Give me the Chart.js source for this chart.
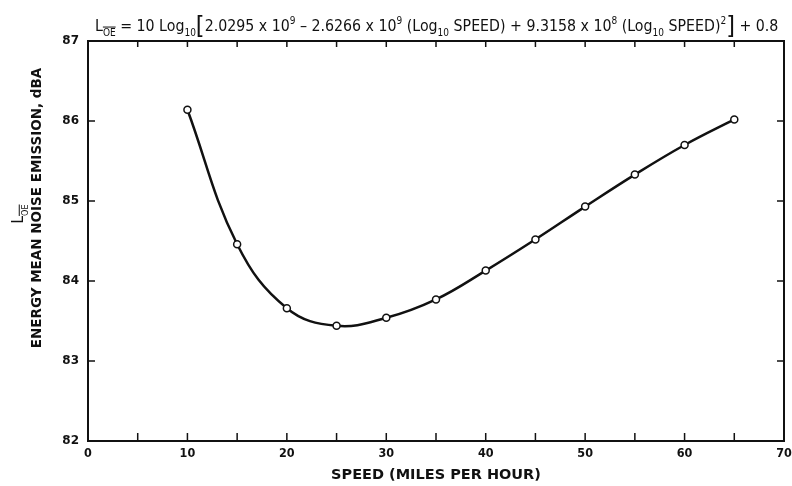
<!DOCTYPE html>
<html>
<head>
<meta charset="utf-8">
<script src="https://cdn.jsdelivr.net/npm/chart.js@4/dist/chart.umd.min.js"></script>
<style>
  html, body { margin: 0; padding: 0; background: #fff; }
  canvas { display: block; }
</style>
</head>
<body>
<canvas id="chart" width="792" height="486"></canvas>
<script>
// speeds (mph) and energy mean noise emission
const speeds = [10, 15, 20, 25, 30, 35, 40, 45, 50, 55, 60, 65];
const levels = [86.14, 84.46, 83.66, 83.44, 83.54, 83.77, 84.13, 84.52, 84.93, 85.33, 85.70, 86.02];
const xTicks = [0, 10, 20, 30, 40, 50, 60, 70];
const yTicks = [82, 83, 84, 85, 86, 87];

const ink = '#111';
const FONT = '"DejaVu Sans Condensed", "DejaVu Sans", sans-serif';
const LABEL_FONT = '"DejaVu Sans", sans-serif';

// pieces of the formula on top, with sub/superscripts
const titleParts = [
    ['L', 'n'], ['OE', 'subbar'], [' = 10 Log', 'n'], ['10', 'sub'], ['[', 'big'],
    ['2.0295 x 10', 'n'], ['9', 'sup'], [' \u2013 2.6266 x 10', 'n'], ['9', 'sup'],
    [' (Log', 'n'], ['10', 'sub'], [' SPEED) + 9.3158 x 10', 'n'], ['8', 'sup'],
    [' (Log', 'n'], ['10', 'sub'], [' SPEED)', 'n'], ['2', 'sup'], [']', 'big'], [' + 0.8', 'n']
];

function partFont(kind, size) {
    if (kind === 'n') return size + 'px ' + FONT;
    if (kind === 'big') return Math.round(size * 1.6) + 'px ' + FONT;
    return Math.round(size * 0.62) + 'px ' + FONT;
}

function drawParts(ctx, parts, x, y, size) {
    parts.forEach(([t, kind]) => {
        ctx.font = partFont(kind, size);
        let dy = 0;
        if (kind === 'sub' || kind === 'subbar') dy = size * 0.3;
        if (kind === 'sup') dy = -size * 0.45;
        if (kind === 'big') dy = size * 0.22;
        ctx.fillText(t, x, y + dy);
        const w = ctx.measureText(t).width;
        if (kind === 'subbar') {
            ctx.beginPath();
            ctx.lineWidth = 1;
            ctx.moveTo(x, y + dy - size * 0.55);
            ctx.lineTo(x + w, y + dy - size * 0.55);
            ctx.stroke();
        }
        x += w;
    });
}

function partsWidth(ctx, parts, size) {
    let w = 0;
    parts.forEach(([t, kind]) => {
        ctx.font = partFont(kind, size);
        w += ctx.measureText(t).width;
    });
    return w;
}

const decor = {
    id: 'decor',
    afterDraw(chart) {
        const ctx = chart.ctx;
        const a = chart.chartArea;
        const sx = chart.scales.x, sy = chart.scales.y;
        ctx.save();
        ctx.strokeStyle = ink;
        ctx.fillStyle = ink;

        // frame
        ctx.lineWidth = 2;
        ctx.strokeRect(a.left, a.top, a.right - a.left, a.bottom - a.top);

        // inward ticks
        ctx.lineWidth = 1.5;
        for (let v = 5; v < 70; v += 5) {
            const px = sx.getPixelForValue(v);
            ctx.beginPath();
            ctx.moveTo(px, a.bottom); ctx.lineTo(px, a.bottom - 8);
            ctx.moveTo(px, a.top); ctx.lineTo(px, a.top + 6);
            ctx.stroke();
        }
        for (let v = 83; v < 87; v++) {
            const py = sy.getPixelForValue(v);
            ctx.beginPath();
            ctx.moveTo(a.left, py); ctx.lineTo(a.left + 7, py);
            ctx.moveTo(a.right, py); ctx.lineTo(a.right - 7, py);
            ctx.stroke();
        }

        // formula title
        ctx.textBaseline = 'alphabetic';
        ctx.textAlign = 'left';
        let size = 15;
        const w = partsWidth(ctx, titleParts, size);
        size = size * 680 / w;
        drawParts(ctx, titleParts, 95, 31, size);

        // y axis title, two rotated lines
        ctx.save();
        ctx.translate(36, 208);
        ctx.rotate(-Math.PI / 2);
        ctx.textAlign = 'center';
        ctx.font = 'bold 13.5px ' + LABEL_FONT;
        ctx.fillText('ENERGY MEAN NOISE EMISSION, dBA', 0, 5);
        ctx.restore();

        ctx.save();
        ctx.translate(18, 214);
        ctx.rotate(-Math.PI / 2);
        ctx.textAlign = 'left';
        const lparts = [['L', 'n'], ['OE', 'subbar']];
        drawParts(ctx, lparts, -partsWidth(ctx, lparts, 15) / 2, 5, 15);
        ctx.restore();

        ctx.restore();
    }
};

new Chart('chart', {
    type: 'scatter',
    data: {
        datasets: [{
            data: speeds.map((s, i) => ({ x: s, y: levels[i] })),
            showLine: true,
            tension: 0.4,
            borderColor: ink,
            borderWidth: 2.5,
            pointRadius: 3.5,
            pointBackgroundColor: '#fff',
            pointBorderColor: ink,
            pointBorderWidth: 1.5
        }]
    },
    options: {
        responsive: false,
        animation: false,
        layout: { padding: { top: 41, right: 8, left: 0, bottom: 0 } },
        plugins: { legend: { display: false }, tooltip: { enabled: false } },
        scales: {
            x: {
                type: 'linear',
                min: 0, max: 70,
                afterBuildTicks: s => { s.ticks = xTicks.map(v => ({ value: v })); },
                afterFit: s => { s.height = 45; s.paddingLeft = 0; s.paddingRight = 0; },
                grid: { display: false, drawTicks: false },
                border: { display: false },
                ticks: { color: ink, font: { family: FONT, size: 12.5, weight: 'bold' }, padding: 5, maxRotation: 0 },
                title: {
                    display: true,
                    text: 'SPEED (MILES PER HOUR)',
                    color: ink,
                    font: { family: LABEL_FONT, size: 14.5, weight: 'bold' },
                    padding: { top: 0, bottom: 2 }
                }
            },
            y: {
                min: 82, max: 87,
                afterBuildTicks: s => { s.ticks = yTicks.map(v => ({ value: v })); },
                afterFit: s => { s.width = 88; s.paddingTop = 0; s.paddingBottom = 0; },
                grid: { display: false, drawTicks: false },
                border: { display: false },
                ticks: { color: ink, font: { family: LABEL_FONT, size: 12, weight: 'bold' }, padding: 9 }
            }
        }
    },
    plugins: [decor]
});
</script>
</body>
</html>
